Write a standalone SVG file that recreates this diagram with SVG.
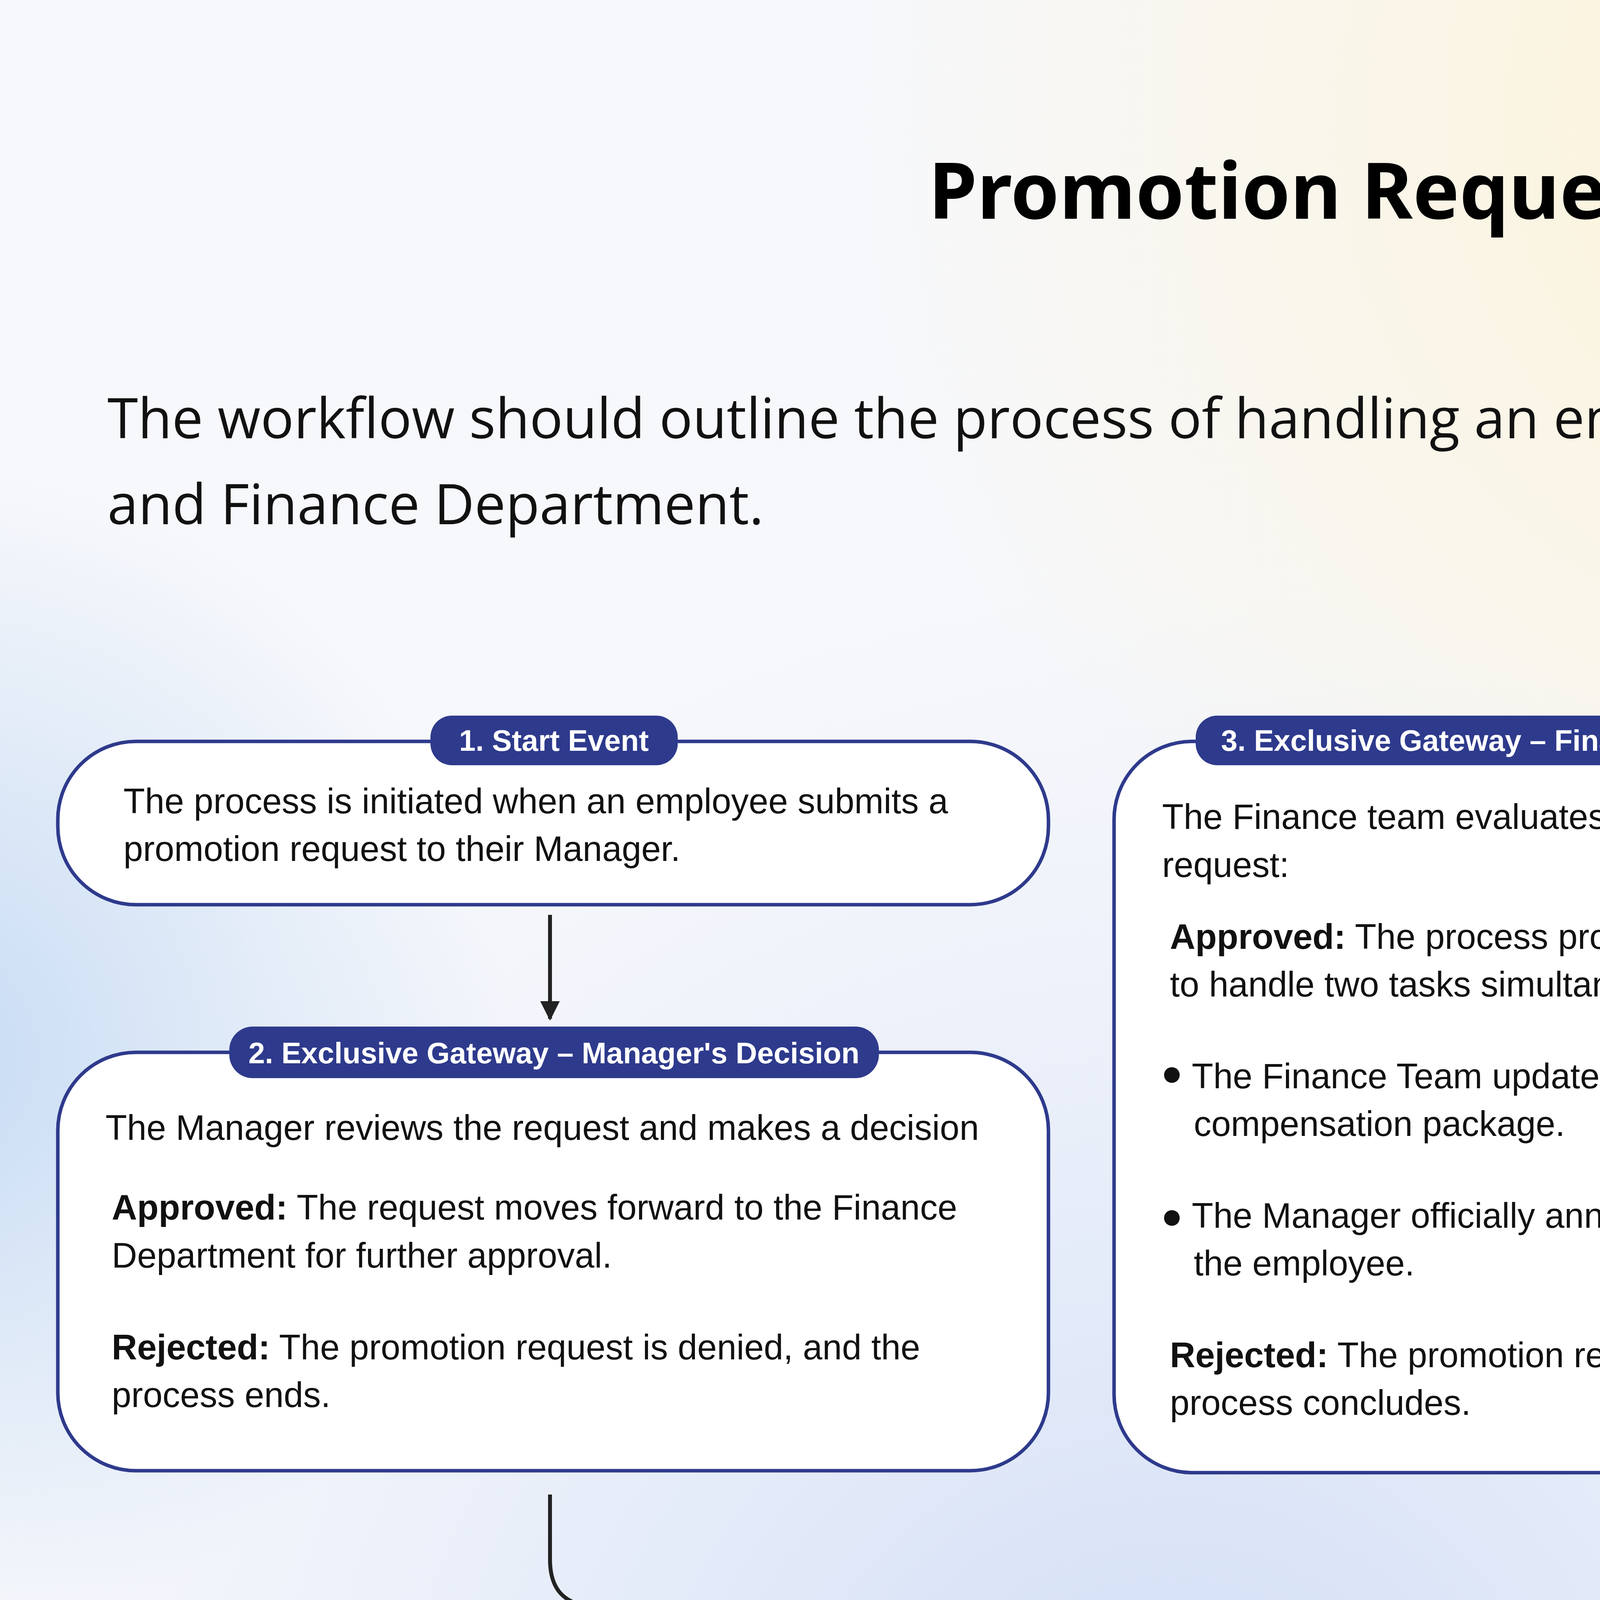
<svg xmlns="http://www.w3.org/2000/svg" width="8000" height="4500" viewBox="0 0 8000 4500">
<defs>
<radialGradient id="gy" cx="4800" cy="300" r="2600" gradientUnits="userSpaceOnUse"><stop offset="0" stop-color="#FCF3D6"/><stop offset="1" stop-color="#FCF3D6" stop-opacity="0"/></radialGradient>
<radialGradient id="gb" cx="3000" cy="4700" r="3200" gradientUnits="userSpaceOnUse"><stop offset="0" stop-color="#CFDCF6"/><stop offset="1" stop-color="#DCE6F8" stop-opacity="0"/></radialGradient>
<radialGradient id="gl" cx="-200" cy="2700" r="1500" gradientUnits="userSpaceOnUse"><stop offset="0" stop-color="#C6DBF4"/><stop offset="1" stop-color="#C6DBF4" stop-opacity="0"/></radialGradient>
<marker id="ah" viewBox="0 0 10 10" refX="9" refY="5" markerWidth="60" markerHeight="50" markerUnits="userSpaceOnUse" orient="auto"><path d="M0,0 L10,5 L0,10 z" fill="#222"/></marker>
<style>
.box{fill:#fff;stroke:#2E3A8C;stroke-width:9}
.badge{fill:#2E3A8C}
.bt{font-family:"Liberation Sans",Arial,sans-serif;font-size:76px;fill:#fff;text-anchor:middle;font-weight:bold}
.t{font-family:"Liberation Sans",Arial,sans-serif;font-size:90px;fill:#111}
.b{font-weight:bold}
.con{fill:none;stroke:#222;stroke-width:10}
</style>
</defs>
<rect width="8000" height="4500" fill="#F7F8FB"/>
<rect width="8000" height="4500" fill="url(#gy)"/>
<rect width="8000" height="4500" fill="url(#gb)"/>
<rect width="8000" height="4500" fill="url(#gl)"/>
<text x="4000" y="560" text-anchor="middle" style="font-family:'Noto Sans',sans-serif;font-weight:bold;font-size:200px;fill:#000">Promotion Request Process Flow</text>
<text x="275" y="1122" style="font-family:'Open Sans',sans-serif;font-size:142px;fill:#111">The workflow should outline the process of handling an employee's promotion request, involving both the Manager</text>
<text x="275" y="1342" style="font-family:'Open Sans',sans-serif;font-size:142px;fill:#111">and Finance Department.</text>

<g id="connectors">
<path class="con" d="M1408,2342 L1408,2608" marker-end="url(#ah)"/>
<path class="con" d="M1408,3826 L1408,3992 Q1408,4112 1528,4112 L4120,4112 Q4240,4112 4240,3992 L4240,3812" marker-end="url(#ah)"/>
<path class="con" d="M5393,2158 L6630,2162 Q6750,2162 6750,2282 L6750,2395" marker-end="url(#ah)"/>
</g>

<g id="n1">
<rect class="box" x="148" y="1898" width="2536" height="418" rx="200"/>
<rect class="badge" x="1102" y="1832" width="633" height="127" rx="55"/>
<text class="bt" x="1418" y="1922">1. Start Event</text>
<text class="t" x="316" y="2082">The process is initiated when an employee submits a</text>
<text class="t" x="316" y="2204">promotion request to their Manager.</text>
</g>

<g id="n2">
<rect class="box" x="148" y="2694" width="2536" height="1071" rx="200"/>
<rect class="badge" x="587" y="2628" width="1663" height="132" rx="60"/>
<text class="bt" x="1418" y="2722">2. Exclusive Gateway – Manager's Decision</text>
<text class="t" x="270" y="2918">The Manager reviews the request and makes a decision</text>
<text class="t" x="286" y="3122"><tspan class="b">Approved:</tspan> The request moves forward to the Finance</text>
<text class="t" x="286" y="3245">Department for further approval.</text>
<text class="t" x="286" y="3480"><tspan class="b">Rejected:</tspan> The promotion request is denied, and the</text>
<text class="t" x="286" y="3602">process ends.</text>
</g>

<g id="n3">
<rect class="box" x="2852" y="1898" width="2536" height="1872" rx="200"/>
<rect class="badge" x="3061" y="1832" width="2112" height="127" rx="55"/>
<text class="bt" x="4117" y="1922">3. Exclusive Gateway – Finance Department’s Decision</text>
<text class="t" x="2975" y="2122">The Finance team evaluates the Manager-approved</text>
<text class="t" x="2975" y="2245">request:</text>
<text class="t" x="2995" y="2429"><tspan class="b">Approved:</tspan> The process proceeds to a Parallel Gateway</text>
<text class="t" x="2995" y="2551">to handle two tasks simultaneously</text>
<circle cx="3000" cy="2752" r="20" fill="#111"/>
<text class="t" x="3051" y="2786">The Finance Team updates the employee’s</text>
<text class="t" x="3056" y="2908">compensation package.</text>
<circle cx="3000" cy="3118" r="20" fill="#111"/>
<text class="t" x="3051" y="3143">The Manager officially announces the promotion to</text>
<text class="t" x="3056" y="3265">the employee.</text>
<text class="t" x="2995" y="3500"><tspan class="b">Rejected:</tspan> The promotion request is denied, and the</text>
<text class="t" x="2995" y="3622">process concludes.</text>
</g>

<g id="n4">
<rect class="box" x="5551" y="2505" width="2291" height="418" rx="200"/>
<rect class="badge" x="6439" y="2429" width="632" height="127" rx="55"/>
<text class="bt" x="6755" y="2519">4.End Event</text>
<text class="t" x="5653" y="2673">The process is completed upon successful approval</text>
<text class="t" x="5653" y="2791">and execution of the promotion-related tasks.</text>
</g>
</svg>
